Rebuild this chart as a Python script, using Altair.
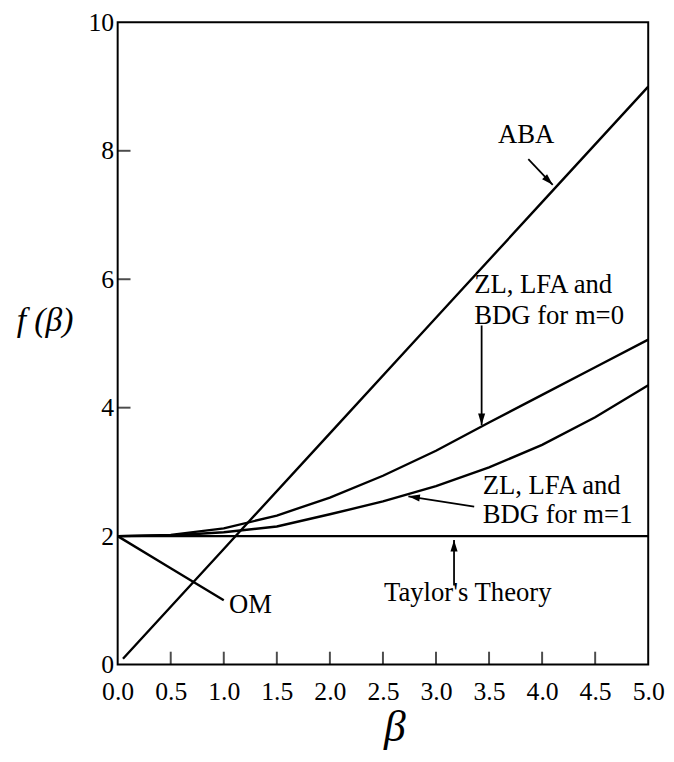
import altair as alt
import pandas as pd

# ---- data ----
beta = [0.0, 0.5, 1.0, 1.5, 2.0, 2.5, 3.0, 3.5, 4.0, 4.5, 5.0]
zl_m0 = [2.0, 2.02, 2.12, 2.32, 2.6, 2.94, 3.33, 3.77, 4.2, 4.63, 5.06]
zl_m1 = [2.0, 2.01, 2.06, 2.15, 2.34, 2.54, 2.78, 3.07, 3.42, 3.85, 4.35]
taylor = [2.0, 2.0, 2.0, 2.0, 2.0, 2.0, 2.0, 2.0, 2.0, 2.0, 2.0]
aba_beta = [0.05, 1.0, 2.0, 3.0, 4.0, 5.0]
aba = [0.09, 1.8, 3.6, 5.4, 7.2, 9.0]
om_beta = [0.0, 0.5, 1.0]
om = [2.0, 1.5, 1.0]

x_ticks = [0.0, 0.5, 1.0, 1.5, 2.0, 2.5, 3.0, 3.5, 4.0, 4.5, 5.0]
y_ticks = [0, 2, 4, 6, 8, 10]
x_inner_ticks = [0.5, 1.0, 1.5, 2.0, 2.5, 3.0, 3.5, 4.0, 4.5]
y_inner_ticks = [2, 4, 6, 8]

# annotation texts (data coordinates)
label_text = ["ABA", "ZL, LFA and", "BDG for m=0", "ZL, LFA and", "BDG for m=1",
              "Taylor's  Theory", "OM"]
label_x = [3.85, 3.36, 3.36, 3.44, 3.44, 2.51, 1.05]
label_y = [8.25, 5.91, 5.43, 2.78, 2.32, 1.11, 0.92]
label_align = ["center", "left", "left", "left", "left", "left", "left"]

# arrows: start (x, y) -> tip (x2, y2), head direction in degrees
arrow_x = [3.87, 3.43, 3.36, 3.17]
arrow_y = [7.87, 5.28, 2.46, 1.23]
arrow_x2 = [4.1, 3.43, 2.74, 3.17]
arrow_y2 = [7.47, 3.73, 2.62, 1.94]
arrow_dir = [135, 180, 278.5, 0]

FONT = "'Liberation Serif', 'Times New Roman', Times, serif"
W, H = 537, 650

rows = []
for name, xs, ys in [("m0", beta, zl_m0), ("m1", beta, zl_m1), ("taylor", beta, taylor),
                     ("aba", aba_beta, aba), ("om", om_beta, om)]:
    for i, (a, b) in enumerate(zip(xs, ys)):
        rows.append({"series": name, "beta": a, "f": b, "order": i})
curves = pd.DataFrame(rows)

labels = pd.DataFrame({"text": label_text, "x": label_x, "y": label_y, "align": label_align})
arrows = pd.DataFrame({"x": arrow_x, "y": arrow_y, "x2": arrow_x2, "y2": arrow_y2, "dir": arrow_dir})
xt = pd.DataFrame({"v": x_inner_ticks})
yt = pd.DataFrame({"v": y_inner_ticks})

xscale = alt.Scale(domain=[0, 5], nice=False, zero=False)
yscale = alt.Scale(domain=[0, 10], nice=False, zero=False)

xaxis = alt.Axis(values=x_ticks, format=".1f", labelFont=FONT, labelFontSize=26,
                 labelColor="black", labelPadding=14, ticks=False, domain=False, grid=False,
                 labelFlush=False, labelOverlap=False, labelBound=False,
                 title="β", titleFont=FONT, titleFontSize=44, titleFontStyle="italic",
                 titleFontWeight="normal", titleColor="black", titleX=280, titleY=77,
                 titleAlign="center", titleBaseline="alphabetic")
yaxis = alt.Axis(values=y_ticks, format="d", labelFont=FONT, labelFontSize=26,
                 labelColor="black", labelPadding=4, ticks=False, domain=False, grid=False,
                 labelFlush=False, labelOverlap=False, labelBound=False,
                 title="f (β)", titleFont=FONT, titleFontSize=34, titleFontStyle="italic",
                 titleFontWeight="normal", titleColor="black", titleAngle=0,
                 titleX=-74, titleY=302, titleAlign="center", titleBaseline="middle")

lines = alt.Chart(curves).mark_line(color="black", strokeWidth=2.4).encode(
    x=alt.X("beta:Q", scale=xscale, axis=xaxis),
    y=alt.Y("f:Q", scale=yscale, axis=yaxis),
    detail="series:N",
    order="order:Q",
)

xtick_marks = alt.Chart(xt).mark_tick(orient="vertical", size=13, thickness=2, color="black").encode(
    x=alt.X("v:Q", scale=xscale), y=alt.value(H - 6.5))
ytick_marks = alt.Chart(yt).mark_tick(orient="horizontal", size=13, thickness=2, color="black").encode(
    y=alt.Y("v:Q", scale=yscale), x=alt.value(6.5))

text_center = alt.Chart(labels[labels["align"] == "center"]).mark_text(
    font=FONT, fontSize=27, color="black", align="center", baseline="middle").encode(
    x=alt.X("x:Q", scale=xscale), y=alt.Y("y:Q", scale=yscale), text="text:N")
text_left = alt.Chart(labels[labels["align"] == "left"]).mark_text(
    font=FONT, fontSize=27, color="black", align="left", baseline="middle").encode(
    x=alt.X("x:Q", scale=xscale), y=alt.Y("y:Q", scale=yscale), text="text:N")

arrow_lines = alt.Chart(arrows).mark_rule(color="black", strokeWidth=1.8).encode(
    x=alt.X("x:Q", scale=xscale), y=alt.Y("y:Q", scale=yscale),
    x2="x2:Q", y2="y2:Q")
arrow_heads = alt.Chart(arrows).mark_point(
    shape="M0,0 L-0.4,1.3 L0.4,1.3 Z", filled=True, color="black", opacity=1, size=320,
    strokeWidth=0).encode(
    x=alt.X("x2:Q", scale=xscale), y=alt.Y("y2:Q", scale=yscale),
    angle=alt.Angle("dir:Q", scale=None))

chart = alt.layer(lines, xtick_marks, ytick_marks, arrow_lines, arrow_heads,
                  text_center, text_left).properties(
    width=W, height=H, autosize="none",
    padding={"left": 111, "top": 10, "right": 18, "bottom": 86},
).configure_view(stroke="black", strokeWidth=2)

chart.save("out.html", embed_options={"renderer": "svg", "actions": False})
